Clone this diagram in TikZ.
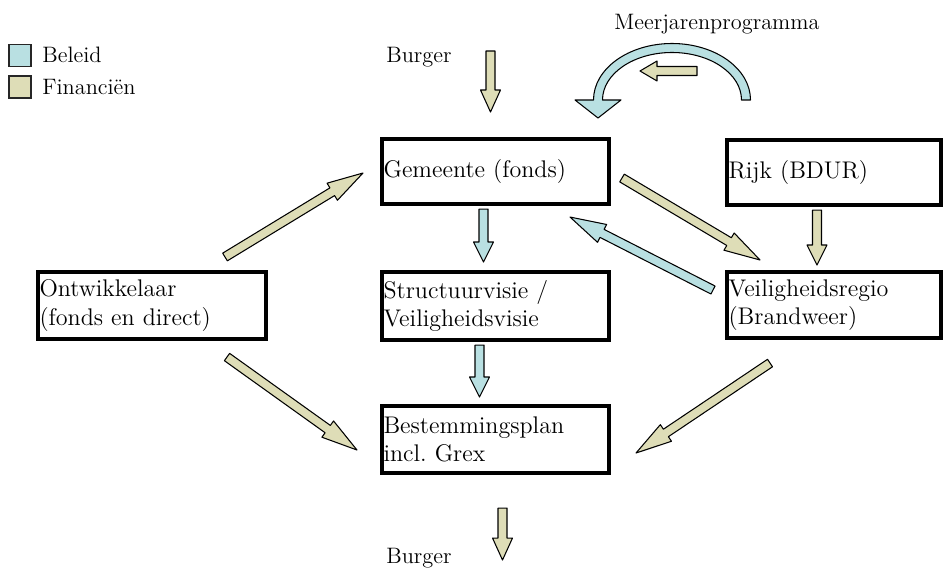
\documentclass[tikz,border=0pt]{standalone}
\usetikzlibrary{calc}

\definecolor{beleid}{RGB}{185,224,226}
\definecolor{financien}{RGB}{222,221,183}

\newcommand*{\shw}{0.09cm}
\newcommand*{\hdw}{0.2cm}
% fat arrow: head length, from, to, fill
\newcommand*{\fatarrow}[4]{%
  \coordinate (fh) at ($(#3)!#1!(#2)$);
  \draw[arrowline, fill=#4] ($(#2)!\shw!90:(#3)$) -- ($(fh)!\shw!-90:(#2)$) -- ($(fh)!\hdw!-90:(#2)$)
    -- (#3) -- ($(fh)!\hdw!90:(#2)$) -- ($(fh)!\shw!90:(#2)$) -- ($(#2)!\shw!-90:(#3)$) -- cycle;}

\begin{document}
\frenchspacing
\begin{tikzpicture}[x=0.02cm, y=-0.02cm,
  box/.style={draw, line width=2.3pt, anchor=north west, minimum width=4.54cm, text width=4.48cm,
    inner xsep=0.03cm, align=left, font=\fontsize{13.7}{16}\selectfont},
  txt/.style={inner sep=0pt, anchor=base west, font=\fontsize{12.7}{15}\selectfont},
  legbox/.style={draw=black!85, line width=1.1pt, minimum size=0.44cm, inner sep=0pt},
  arrowline/.style={draw=black, line width=0.6pt, line join=round}]
	\useasboundingbox (0,0) rectangle (945,567);

	% legend
	\node[legbox, fill=beleid] (kbel) at (20,55.5) {};
	\node[txt] (tbel) at (42,63) {Beleid};
	\node[legbox, fill=financien] (kfin) at (20,87) {};
	\node[txt] (tfin) at (42,95) {Financiën};

	% boxes
	\node[box, minimum height=1.3cm] (gem) at (380,137) {Gemeente (fonds)};
	\node[box, minimum height=1.36cm] (struct) at (380,270) {Structuurvisie /\\Veiligheidsvisie};
	\node[box, minimum height=1.34cm] (plan) at (380,404) {Bestemmingsplan\\incl. Grex};
	\node[box, minimum height=1.34cm, minimum width=4.56cm, text width=4.5cm] (ontw) at (36,270) {Ontwikkelaar\\(fonds en direct)};
	\node[box, minimum height=1.3cm, minimum width=4.28cm, text width=4.22cm] (rijk) at (725,138) {Rijk (BDUR)};
	\node[box, minimum height=1.32cm, minimum width=4.28cm, text width=4.22cm] (veil) at (725,270) {Veiligheidsregio\\(Brandweer)};

	\node[txt] (burg1) at (386,63) {Burger};
	\node[txt] (mjp) at (614,30) {Meerjarenprogramma};
	\node[txt] (burg2) at (386,563) {Burger};

	% arrow ends
	\coordinate (b1s) at ($(gem.north)+(-5,-86)$);
	\coordinate (b1e) at ($(gem.north)+(-5,-25)$);
	\coordinate (gs1) at ($(gem.south)+(-12,3)$);
	\coordinate (gs2) at ($(struct.north)+(-12,-8)$);
	\coordinate (sp1) at ($(struct.south)+(-16,3)$);
	\coordinate (sp2) at ($(plan.north)+(-16,-7)$);
	\coordinate (rv1) at ($(rijk.south)+(-17,3)$);
	\coordinate (rv2) at ($(veil.north)+(-17,-5)$);
	\coordinate (og1) at ($(ontw.north east)+(-43,-13)$);
	\coordinate (og2) at ($(gem.west)+(-17,1.5)$);
	\coordinate (op1) at ($(ontw.south east)+(-41,16)$);
	\coordinate (op2) at ($(plan.west)+(-23,10.5)$);
	\coordinate (gv1) at ($(gem.east)+(11,6.5)$);
	\coordinate (gv2) at ($(veil.north west)+(35,-10)$);
	\coordinate (vg1) at ($(veil.west)+(-12,-15)$);
	\coordinate (vg2) at ($(gem.south east)+(-41,11)$);
	\coordinate (vp1) at ($(veil.south west)+(45,23)$);
	\coordinate (vp2) at ($(plan.east)+(25,13.5)$);
	\coordinate (b2s) at ($(plan.south)+(7,33)$);
	\coordinate (b2e) at ($(plan.south)+(7,85)$);
	\coordinate (mk1) at (697,71);
	\coordinate (mk2) at (640,71);
	\coordinate (mtip) at (598,118);

	% financien
	\fatarrow{0.44cm}{b1s}{b1e}{financien}
	\fatarrow{0.4cm}{rv1}{rv2}{financien}
	\fatarrow{0.72cm}{og1}{og2}{financien}
	\fatarrow{0.72cm}{op1}{op2}{financien}
	\fatarrow{0.72cm}{gv1}{gv2}{financien}
	\fatarrow{0.72cm}{vp1}{vp2}{financien}
	\fatarrow{0.44cm}{b2s}{b2e}{financien}
	\fatarrow{0.34cm}{mk1}{mk2}{financien}

	% beleid
	\fatarrow{0.4cm}{gs1}{gs2}{beleid}
	\fatarrow{0.4cm}{sp1}{sp2}{beleid}
	\fatarrow{0.72cm}{vg1}{vg2}{beleid}
	\draw[arrowline, fill=beleid] (750.5,100) arc[start angle=0, end angle=-180, x radius=78.5, y radius=56.5]
		-- (575,100) -- (mtip) -- (621,100) -- (602.5,100)
		arc[start angle=-180, end angle=0, x radius=69.5, y radius=47.5] -- cycle;

\end{tikzpicture}
\end{document}
